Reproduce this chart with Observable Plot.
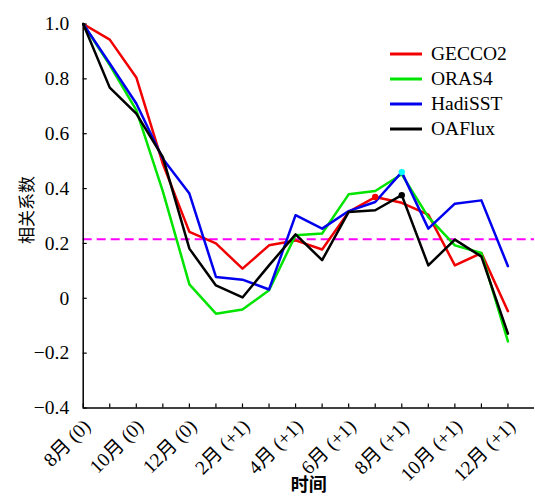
<!DOCTYPE html>
<html>
<head>
<meta charset="utf-8">
<script src="https://cdn.jsdelivr.net/npm/d3@7"></script>
<script src="https://cdn.jsdelivr.net/npm/@observablehq/plot@0.6"></script>
<style>
  html, body { margin: 0; padding: 0; background: #fff; }
  #wrap { position: relative; width: 535px; height: 502px; }
  #wrap svg text { font-family: "Liberation Serif", "Noto Sans CJK SC", serif; }
  #wrap svg text.cjk { font-family: "Noto Sans CJK SC", sans-serif; }
  #legend { position: absolute; left: 390px; top: 41px; font-family: "Liberation Serif", serif; font-size: 19.5px; color: #000; }
  #legend .row { display: flex; align-items: center; height: 25.2px; }
  #legend svg { width: 32px; height: 6px; margin-right: 9px; }
</style>
</head>
<body>
<div id="wrap"><div id="legend"></div></div>
<script>
// month index 0 = 8月(0) ... 16 = 12月(+1)
const months = d3.range(17);
const tickLabelIdx = [0, 2, 4, 6, 8, 10, 12, 14, 16];
const tickLabels = ["8月 (0)", "10月 (0)", "12月 (0)", "2月 (+1)", "4月 (+1)", "6月 (+1)", "8月 (+1)", "10月 (+1)", "12月 (+1)"];
const yTicks = [-0.4, -0.2, 0, 0.2, 0.4, 0.6, 0.8, 1.0];

const seriesNames = ["GECCO2", "ORAS4", "HadiSST", "OAFlux"];
const seriesColors = ["#f00000", "#00e400", "#0000ee", "#000000"];

const gecco2  = [1.0, 0.943, 0.805, 0.49, 0.242, 0.20, 0.108, 0.193, 0.211, 0.178, 0.315, 0.369, 0.348, 0.305, 0.120, 0.165, -0.047];
const oras4   = [1.0, 0.85, 0.686, 0.39, 0.051, -0.056, -0.041, 0.029, 0.23, 0.236, 0.379, 0.391, 0.452, 0.296, 0.193, 0.165, -0.157];
const hadisst = [1.0, 0.856, 0.71, 0.509, 0.382, 0.078, 0.068, 0.032, 0.303, 0.254, 0.318, 0.351, 0.46, 0.254, 0.345, 0.357, 0.117];
const oaflux  = [1.0, 0.768, 0.673, 0.515, 0.181, 0.047, 0.003, 0.12, 0.233, 0.139, 0.315, 0.321, 0.376, 0.12, 0.214, 0.152, -0.129];
const seriesValues = [gecco2, oras4, hadisst, oaflux];

const threshold = 0.215;

// highlighted points: series index, month index, color
const highlightSeries = [0, 2, 3];
const highlightMonth = [11, 12, 12];
const highlightColor = ["#f00000", "#00ffff", "#000000"];

const rows = [];
seriesNames.forEach((name, s) => {
  seriesValues[s].forEach((v, i) => rows.push({series: name, month: months[i], value: v}));
});
const highlights = highlightSeries.map((s, k) => ({
  month: highlightMonth[k], value: seriesValues[s][highlightMonth[k]], color: highlightColor[k]
}));

const fmtY = d => d === 0 ? "0" : (d < 0 ? "\u2212" + Math.abs(d).toFixed(1) : d.toFixed(1));

const chart = Plot.plot({
  width: 535,
  height: 502,
  marginLeft: 82.7,
  marginRight: 1,
  marginTop: 23.5,
  marginBottom: 94.5,
  x: {domain: [0, 17]},
  y: {domain: [-0.4, 1.0]},
  style: {fontSize: "19.5px", background: "#fff", color: "#000", overflow: "visible"},
  marks: [
    Plot.ruleY([threshold], {stroke: "#ff00ff", strokeWidth: 2, strokeDasharray: "9,5"}),
    ...seriesNames.map((name, s) =>
      Plot.line(rows.filter(r => r.series === name), {x: "month", y: "value", stroke: seriesColors[s], strokeWidth: 2.5, strokeLinejoin: "round"})
    ),
    Plot.dot(highlights, {x: "month", y: "value", fill: "color", r: 3.2, stroke: null}),
    Plot.ruleX([0], {stroke: "#000", strokeWidth: 1.5}),
    Plot.ruleY([-0.4], {stroke: "#000", strokeWidth: 1.5}),
    Plot.axisX({ticks: months, tickSize: 4, dy: -4, tickFormat: () => "", label: null, strokeWidth: 1.2}),
    Plot.axisX({ticks: tickLabelIdx, tickSize: 0, tickPadding: 15, dx: 4, tickRotate: -45, fontSize: 19.5,
      tickFormat: i => tickLabels[tickLabelIdx.indexOf(i)], label: null}),
    Plot.axisY({ticks: yTicks, tickSize: 4, dx: 4, tickFormat: () => "", label: null, strokeWidth: 1.2}),
    Plot.axisY({ticks: yTicks, tickSize: 0, tickPadding: 14, tickFormat: fmtY, label: null, fontSize: 19.5}),
    Plot.text(["时间"], {frameAnchor: "bottom", dy: 83, fontWeight: "bold", fontSize: 18, className: "cjk"}),
    Plot.text(["相关系数"], {frameAnchor: "left", dx: -56, dy: 28, rotate: -90, fontSize: 17, className: "cjk"})
  ]
});
const wrap = document.getElementById("wrap");
wrap.insertBefore(chart, wrap.firstChild);
d3.select(chart).selectAll("g.cjk text").classed("cjk", true);

const legend = d3.select("#legend");
seriesNames.forEach((name, s) => {
  const row = legend.append("div").attr("class", "row");
  const svg = row.append("svg").attr("viewBox", "0 0 32 6");
  svg.append("line").attr("x1", 0).attr("x2", 32).attr("y1", 3).attr("y2", 3)
    .attr("stroke", seriesColors[s]).attr("stroke-width", 3);
  row.append("span").text(name);
});
</script>
</body>
</html>
